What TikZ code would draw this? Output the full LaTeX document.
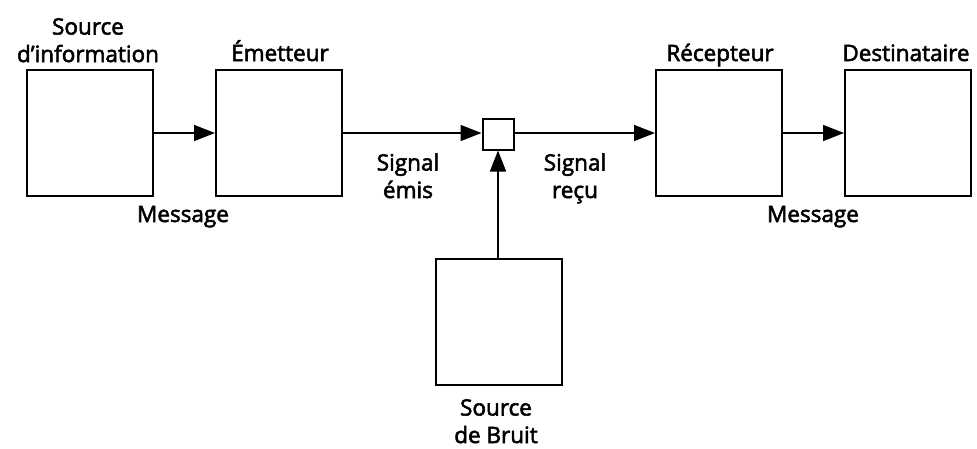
\documentclass[tikz,border=0pt]{standalone}
\usepackage{fontspec}
\setmainfont{Open Sans}
\newfontfamily\lblfont{Open Sans}[FakeBold=2.5]
\usetikzlibrary{arrows.meta}
\begin{document}
\begin{tikzpicture}[x=1pt,y=-1pt,
  blk/.style={draw,line width=2pt,minimum size=126pt,inner sep=0pt},
  sml/.style={draw,line width=2pt,minimum size=31pt,inner sep=0pt},
  lbl/.style={inner sep=0pt,align=center,font={\lblfont\fontsize{22.5}{27.5}\selectfont}},
  arr/.style={line width=1.6pt,-{Triangle[length=21pt,width=16pt]}}]
\useasboundingbox (0,0) rectangle (977,448);
\node[blk] (src) at (90,133) {};
\node[blk] (em) at (279,133) {};
\node[sml] (mix) at (498,134) {};
\node[blk] (rec) at (719,133) {};
\node[blk] (dst) at (908,133) {};
\node[blk] (noise) at (499,322) {};
\draw[arr] (src.east) -- (em.west);
\draw[arr] (em.east) -- (em.east -| mix.west);
\draw[arr] (mix.east |- rec.west) -- (rec.west);
\draw[arr] (rec.east) -- (dst.west);
\draw[arr] (noise.north -| mix.south) -- (mix.south);
\node[lbl,anchor=base] (tsrc) at (88,62) {Source\\d’information};
\node[lbl,anchor=base] (tem) at (280,61) {Émetteur};
\node[lbl,anchor=base] (trec) at (720,61) {Récepteur};
\node[lbl,anchor=base] (tdst) at (906,61) {Destinataire};
\node[lbl,anchor=base] (tm1) at (183,222) {Message};
\node[lbl,anchor=base] (tm2) at (813,222) {Message};
\node[lbl,anchor=base] (tse) at (408,198) {Signal\\émis};
\node[lbl,anchor=base] (tsr) at (575,198) {Signal\\reçu};
\node[lbl,anchor=base] (tnb) at (496,443) {Source\\de Bruit};
\end{tikzpicture}
\end{document}
